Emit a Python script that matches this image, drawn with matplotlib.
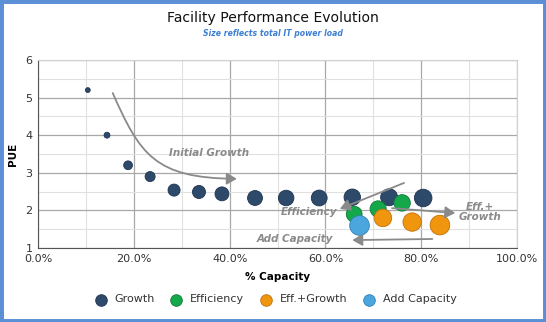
import numpy as np
import matplotlib
matplotlib.use('Agg')
import matplotlib.pyplot as plt
from matplotlib.patches import FancyArrowPatch, Rectangle
from matplotlib.path import Path
from matplotlib.ticker import MultipleLocator, FuncFormatter

# data: capacity (%), PUE, bubble size (IT load, marker area)
growth_x = [10.4, 14.4, 18.8, 23.4, 28.4, 33.6, 38.4, 45.3, 51.8, 58.7, 65.6, 73.3, 80.4]
growth_y = [5.2, 4.0, 3.2, 2.9, 2.54, 2.49, 2.44, 2.33, 2.33, 2.33, 2.35, 2.35, 2.33]
growth_s = [12, 18, 40, 52, 75, 88, 100, 115, 125, 130, 140, 150, 160]

eff_x = [66.0, 71.0, 76.0]
eff_y = [1.9, 2.04, 2.2]
eff_s = [130, 135, 140]

effg_x = [72.0, 78.1, 83.9]
effg_y = [1.8, 1.69, 1.61]
effg_s = [160, 175, 200]

add_x = [67.0]
add_y = [1.61]
add_s = [200]

c_growth = '#2e4a6b'
c_eff = '#14a84b'
c_effg = '#f0950e'
c_add = '#4ba6dd'
c_note = '#8a8a8a'

fig = plt.figure(figsize=(5.46, 3.22), dpi=100)
fig.patch.set_facecolor('white')
ax = fig.add_axes([0.0696, 0.2298, 0.8774, 0.5839])

ax.set_xlim(0, 100)
ax.set_ylim(1, 6)
ax.xaxis.set_major_locator(MultipleLocator(20))
ax.xaxis.set_minor_locator(MultipleLocator(10))
ax.yaxis.set_major_locator(MultipleLocator(1))
ax.yaxis.set_minor_locator(MultipleLocator(0.5))
ax.xaxis.set_major_formatter(FuncFormatter(lambda v, p: '%.1f%%' % v))
ax.grid(which='major', color='#a8a8a8', lw=0.9)
ax.grid(which='minor', color='#e0e0e0', lw=0.8)
ax.set_axisbelow(True)
ax.tick_params(which='both', length=0, labelsize=8, colors='#333333', pad=4)
for s in ['top', 'right']:
    ax.spines[s].set_color('#d0d0d0')
for s in ['left', 'bottom']:
    ax.spines[s].set_color('#555555')

ax.scatter(growth_x, growth_y, s=growth_s, c=c_growth, edgecolors='#1f3350', lw=0.6, zorder=3, label='Growth')
ax.scatter(eff_x, eff_y, s=eff_s, c=c_eff, edgecolors='#0e7a36', lw=0.6, zorder=3, label='Efficiency')
ax.scatter(effg_x, effg_y, s=effg_s, c=c_effg, edgecolors='#c07208', lw=0.6, zorder=3, label='Eff.+Growth')
ax.scatter(add_x, add_y, s=add_s, c=c_add, edgecolors='#2f80b8', lw=0.6, zorder=3, label='Add Capacity')

# annotation arrows
curve = Path([(15.6, 5.12), (21.3, 3.48), (24.4, 2.86), (41.5, 2.84)],
             [Path.MOVETO, Path.CURVE4, Path.CURVE4, Path.CURVE4])
ax.add_patch(FancyArrowPatch(path=curve, arrowstyle='-|>,head_length=6,head_width=3.5',
                             color=c_note, lw=1.3, zorder=4))
for a, b in [((76.4, 2.73), (63.0, 2.04)), ((73.9, 2.06), (87.1, 1.93)), ((82.3, 1.24), (65.6, 1.21))]:
    ax.add_patch(FancyArrowPatch(a, b, arrowstyle='-|>,head_length=6,head_width=3.5',
                                 color=c_note, lw=1.3, zorder=4, shrinkA=0, shrinkB=0))

note = dict(color=c_note, fontsize=7.5, fontweight='bold', style='italic', ha='center', va='center', zorder=5)
ax.text(35.7, 3.53, 'Initial Growth', **note)
ax.text(56.6, 1.96, 'Efficiency', **note)
ax.text(92.3, 1.96, 'Eff.+\nGrowth', linespacing=1.0, **note)
ax.text(53.7, 1.24, 'Add Capacity', **note)

ax.set_xlabel('% Capacity', fontsize=7.5, fontweight='bold', labelpad=6)
ax.set_ylabel('PUE', fontsize=7.5, fontweight='bold', labelpad=5)

fig.text(0.5, 0.945, 'Facility Performance Evolution', ha='center', va='center', fontsize=10.1, color='#111111')
fig.text(0.5, 0.895, 'Size reflects total IT power load', ha='center', va='center', fontsize=5.6,
         fontweight='bold', style='italic', color='#3d7fd4')

leg = fig.legend(loc='center', bbox_to_anchor=(0.5, 0.07), ncol=4, frameon=False, fontsize=8,
                 handletextpad=0.2, columnspacing=1.0, scatterpoints=1, labelcolor='#333333')
for h in leg.legend_handles:
    h.set_sizes([70])

fig.patches.append(Rectangle((0, 0), 1, 1, transform=fig.transFigure, fill=False,
                             edgecolor='#5b8fd6', lw=5, zorder=10))

fig.savefig('out.png', dpi=100)
